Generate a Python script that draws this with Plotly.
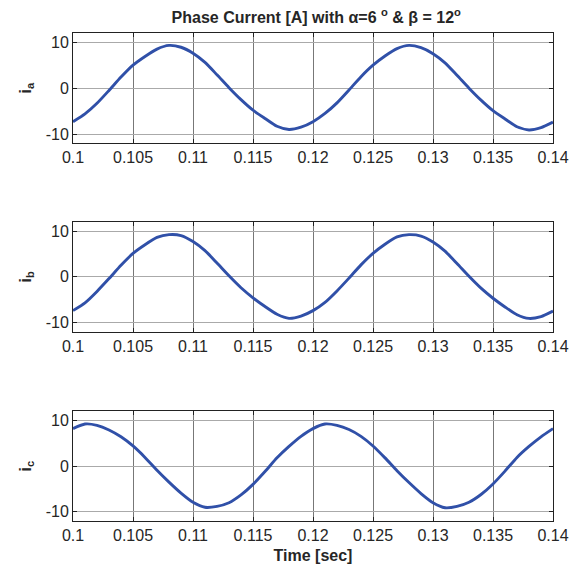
import plotly.graph_objects as go

t = [0.100, 0.101, 0.102, 0.103, 0.104, 0.105, 0.106, 0.107, 0.108, 0.109,
     0.110, 0.111, 0.112, 0.113, 0.114, 0.115, 0.116, 0.117, 0.118, 0.119,
     0.120, 0.121, 0.122, 0.123, 0.124, 0.125, 0.126, 0.127, 0.128, 0.129,
     0.130, 0.131, 0.132, 0.133, 0.134, 0.135, 0.136, 0.137, 0.138, 0.139, 0.140]

ia = [-7.3, -5.6, -3.3, -0.5, 2.4, 5.0, 6.9, 8.5, 9.3, 8.9,
      7.6, 5.6, 2.9, 0.1, -2.5, -4.8, -6.6, -8.3, -9.0, -8.5,
      -7.3, -5.5, -3.2, -0.4, 2.5, 5.0, 7.0, 8.6, 9.3, 8.8,
      7.5, 5.5, 2.8, 0.0, -2.6, -4.9, -6.7, -8.4, -9.1, -8.6, -7.4]

ib = [-7.4, -5.7, -3.2, -0.4, 2.5, 5.1, 7.0, 8.6, 9.2, 9.0,
      7.7, 5.7, 3.0, 0.2, -2.4, -4.6, -6.5, -8.2, -9.1, -8.6,
      -7.4, -5.6, -3.1, -0.3, 2.6, 5.1, 7.1, 8.7, 9.2, 8.9,
      7.6, 5.6, 2.9, 0.1, -2.5, -4.7, -6.6, -8.3, -9.1, -8.7, -7.5]

ic = [8.2, 9.2, 8.9, 7.9, 6.4, 4.4, 1.9, -0.9, -3.5, -5.9,
      -7.9, -9.0, -8.8, -8.0, -6.3, -4.0, -1.2, 1.8, 4.3, 6.5,
      8.2, 9.2, 8.9, 8.0, 6.5, 4.4, 1.8, -1.0, -3.6, -6.0,
      -8.0, -9.1, -8.8, -7.9, -6.2, -3.9, -1.1, 1.9, 4.3, 6.4, 8.2]

x_ticks = [0.1, 0.105, 0.11, 0.115, 0.12, 0.125, 0.13, 0.135, 0.14]
x_labels = ["0.1", "0.105", "0.11", "0.115", "0.12", "0.125", "0.13", "0.135", "0.14"]
y_ticks = [-10, 0, 10]
y_labels = ["-10", "0", "10"]

series = [("a", ia), ("b", ib), ("c", ic)]
domains = [[0.774, 1.0], [0.388, 0.613], [0.0, 0.225]]

FONT = "Liberation Sans, Arial, sans-serif"
TXT = "#262626"
LINE = "#3050A8"

fig = go.Figure()
layout = dict(
    width=574, height=571,
    margin=dict(l=73, r=21, t=33, b=50, autoexpand=False),
    paper_bgcolor="white", plot_bgcolor="white",
    showlegend=False,
    font=dict(family=FONT, size=16, color=TXT),
    title=dict(
        text="<b>Phase Current [A] with α=6 <sup>o</sup> & β = 12<sup>o</sup></b>",
        x=0.551, xanchor="center", y=0.970, yanchor="middle",
        font=dict(family=FONT, size=16, color=TXT),
    ),
)

for i, (name, vals) in enumerate(series):
    n = "" if i == 0 else str(i + 1)
    fig.add_trace(go.Scatter(
        x=t, y=vals, mode="lines",
        line=dict(color=LINE, width=2.9, shape="spline", smoothing=0.6),
        xaxis="x" + n, yaxis="y" + n, hoverinfo="skip",
    ))
    xa = dict(
        domain=[0, 1], anchor="y" + n, range=[0.1, 0.14], automargin=False,
        tickvals=x_ticks, ticktext=x_labels,
        ticks="inside", ticklen=4, tickcolor="#222",
        showline=True, linecolor="#222", linewidth=1, mirror="ticks",
        showgrid=True, gridcolor="#777", gridwidth=1,
        zeroline=False, tickfont=dict(family=FONT, size=16, color=TXT),
    )
    if i == 2:
        xa["title"] = dict(text="<b>Time [sec]</b>",
                           font=dict(family=FONT, size=16, color=TXT), standoff=6)
    ya = dict(
        domain=domains[i], anchor="x" + n, range=[-12, 12], automargin=False,
        tickvals=y_ticks, ticktext=y_labels,
        ticks="inside", ticklen=4, tickcolor="#222",
        showline=True, linecolor="#222", linewidth=1, mirror="ticks",
        showgrid=True, gridcolor="#aaa", gridwidth=1,
        zeroline=False, tickfont=dict(family=FONT, size=16, color=TXT),
        title=dict(text="<b>i<sub>%s</sub></b>" % name,
                   font=dict(family=FONT, size=16, color=TXT), standoff=10),
    )
    layout["xaxis" + n] = xa
    layout["yaxis" + n] = ya

fig.update_layout(**layout)
fig.write_html(
    "out.html",
    config={"displayModeBar": False, "responsive": False},
    post_script="document.body.style.margin='0';document.body.style.overflow='hidden';",
)
